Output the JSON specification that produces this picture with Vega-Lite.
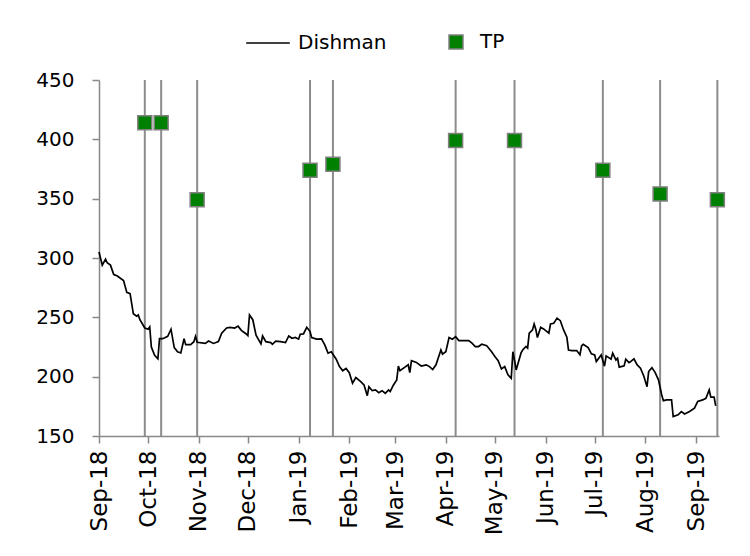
{
  "$schema": "https://vega.github.io/schema/vega-lite/v6.json",
  "width": 620,
  "height": 356,
  "autosize": {"type": "none"},
  "padding": {"left": 99, "top": 80, "right": 31, "bottom": 120},
  "background": "white",
  "config": {
    "view": {"stroke": null},
    "font": "DejaVu Sans",
    "axis": {
      "grid": false,
      "domainColor": "#898989",
      "domainWidth": 1.5,
      "tickColor": "#898989",
      "tickWidth": 1.5,
      "tickSize": 7,
      "labelColor": "#000000",
      "labelFont": "DejaVu Sans",
      "title": null
    },
    "legend": {
      "labelFont": "DejaVu Sans",
      "labelFontSize": 20,
      "labelColor": "#000000",
      "padding": 0,
      "title": null
    }
  },
  "datasets": {
    "dishman": [
      {"date": "2018-09-03", "price": 305, "s": "Dishman"},
      {"date": "2018-09-05", "price": 294, "s": "Dishman"},
      {"date": "2018-09-07", "price": 299, "s": "Dishman"},
      {"date": "2018-09-08", "price": 296, "s": "Dishman"},
      {"date": "2018-09-10", "price": 294, "s": "Dishman"},
      {"date": "2018-09-12", "price": 286, "s": "Dishman"},
      {"date": "2018-09-14", "price": 285, "s": "Dishman"},
      {"date": "2018-09-18", "price": 281, "s": "Dishman"},
      {"date": "2018-09-20", "price": 271, "s": "Dishman"},
      {"date": "2018-09-22", "price": 270, "s": "Dishman"},
      {"date": "2018-09-24", "price": 253, "s": "Dishman"},
      {"date": "2018-09-26", "price": 251, "s": "Dishman"},
      {"date": "2018-09-27", "price": 252, "s": "Dishman"},
      {"date": "2018-09-28", "price": 248, "s": "Dishman"},
      {"date": "2018-10-01", "price": 241, "s": "Dishman"},
      {"date": "2018-10-03", "price": 240, "s": "Dishman"},
      {"date": "2018-10-04", "price": 242, "s": "Dishman"},
      {"date": "2018-10-05", "price": 225, "s": "Dishman"},
      {"date": "2018-10-07", "price": 218, "s": "Dishman"},
      {"date": "2018-10-09", "price": 215, "s": "Dishman"},
      {"date": "2018-10-10", "price": 232, "s": "Dishman"},
      {"date": "2018-10-12", "price": 232, "s": "Dishman"},
      {"date": "2018-10-15", "price": 234, "s": "Dishman"},
      {"date": "2018-10-17", "price": 240, "s": "Dishman"},
      {"date": "2018-10-19", "price": 224.5, "s": "Dishman"},
      {"date": "2018-10-21", "price": 221, "s": "Dishman"},
      {"date": "2018-10-23", "price": 220, "s": "Dishman"},
      {"date": "2018-10-25", "price": 232, "s": "Dishman"},
      {"date": "2018-10-26", "price": 227, "s": "Dishman"},
      {"date": "2018-10-29", "price": 227, "s": "Dishman"},
      {"date": "2018-10-31", "price": 229.5, "s": "Dishman"},
      {"date": "2018-11-01", "price": 234, "s": "Dishman"},
      {"date": "2018-11-02", "price": 229, "s": "Dishman"},
      {"date": "2018-11-07", "price": 228, "s": "Dishman"},
      {"date": "2018-11-09", "price": 230, "s": "Dishman"},
      {"date": "2018-11-12", "price": 228, "s": "Dishman"},
      {"date": "2018-11-15", "price": 229.5, "s": "Dishman"},
      {"date": "2018-11-17", "price": 236.6, "s": "Dishman"},
      {"date": "2018-11-20", "price": 241, "s": "Dishman"},
      {"date": "2018-11-22", "price": 241.6, "s": "Dishman"},
      {"date": "2018-11-25", "price": 241, "s": "Dishman"},
      {"date": "2018-11-27", "price": 242.6, "s": "Dishman"},
      {"date": "2018-11-29", "price": 239, "s": "Dishman"},
      {"date": "2018-12-02", "price": 236, "s": "Dishman"},
      {"date": "2018-12-03", "price": 234.6, "s": "Dishman"},
      {"date": "2018-12-04", "price": 252, "s": "Dishman"},
      {"date": "2018-12-06", "price": 248, "s": "Dishman"},
      {"date": "2018-12-08", "price": 235, "s": "Dishman"},
      {"date": "2018-12-11", "price": 227.6, "s": "Dishman"},
      {"date": "2018-12-12", "price": 234.3, "s": "Dishman"},
      {"date": "2018-12-14", "price": 229.5, "s": "Dishman"},
      {"date": "2018-12-17", "price": 228.7, "s": "Dishman"},
      {"date": "2018-12-18", "price": 227.3, "s": "Dishman"},
      {"date": "2018-12-20", "price": 230, "s": "Dishman"},
      {"date": "2018-12-23", "price": 229.5, "s": "Dishman"},
      {"date": "2018-12-26", "price": 228.7, "s": "Dishman"},
      {"date": "2018-12-28", "price": 234.3, "s": "Dishman"},
      {"date": "2018-12-30", "price": 232.4, "s": "Dishman"},
      {"date": "2019-01-01", "price": 233, "s": "Dishman"},
      {"date": "2019-01-03", "price": 231.6, "s": "Dishman"},
      {"date": "2019-01-04", "price": 235.8, "s": "Dishman"},
      {"date": "2019-01-06", "price": 236, "s": "Dishman"},
      {"date": "2019-01-08", "price": 241.6, "s": "Dishman"},
      {"date": "2019-01-10", "price": 238, "s": "Dishman"},
      {"date": "2019-01-11", "price": 233, "s": "Dishman"},
      {"date": "2019-01-14", "price": 231.6, "s": "Dishman"},
      {"date": "2019-01-17", "price": 231.8, "s": "Dishman"},
      {"date": "2019-01-19", "price": 226.8, "s": "Dishman"},
      {"date": "2019-01-21", "price": 219.8, "s": "Dishman"},
      {"date": "2019-01-23", "price": 221, "s": "Dishman"},
      {"date": "2019-01-26", "price": 214.7, "s": "Dishman"},
      {"date": "2019-01-28", "price": 208.5, "s": "Dishman"},
      {"date": "2019-01-30", "price": 205, "s": "Dishman"},
      {"date": "2019-02-01", "price": 207, "s": "Dishman"},
      {"date": "2019-02-03", "price": 203.4, "s": "Dishman"},
      {"date": "2019-02-05", "price": 194.5, "s": "Dishman"},
      {"date": "2019-02-07", "price": 199.2, "s": "Dishman"},
      {"date": "2019-02-10", "price": 195.8, "s": "Dishman"},
      {"date": "2019-02-12", "price": 193, "s": "Dishman"},
      {"date": "2019-02-14", "price": 184, "s": "Dishman"},
      {"date": "2019-02-15", "price": 191.6, "s": "Dishman"},
      {"date": "2019-02-17", "price": 188.2, "s": "Dishman"},
      {"date": "2019-02-19", "price": 188.8, "s": "Dishman"},
      {"date": "2019-02-21", "price": 186.5, "s": "Dishman"},
      {"date": "2019-02-23", "price": 188.2, "s": "Dishman"},
      {"date": "2019-02-25", "price": 186, "s": "Dishman"},
      {"date": "2019-02-27", "price": 188.8, "s": "Dishman"},
      {"date": "2019-02-28", "price": 187.4, "s": "Dishman"},
      {"date": "2019-03-02", "price": 193, "s": "Dishman"},
      {"date": "2019-03-04", "price": 197.3, "s": "Dishman"},
      {"date": "2019-03-05", "price": 209, "s": "Dishman"},
      {"date": "2019-03-06", "price": 205, "s": "Dishman"},
      {"date": "2019-03-09", "price": 208, "s": "Dishman"},
      {"date": "2019-03-11", "price": 210, "s": "Dishman"},
      {"date": "2019-03-12", "price": 203.4, "s": "Dishman"},
      {"date": "2019-03-13", "price": 213.5, "s": "Dishman"},
      {"date": "2019-03-14", "price": 213, "s": "Dishman"},
      {"date": "2019-03-16", "price": 212, "s": "Dishman"},
      {"date": "2019-03-17", "price": 211, "s": "Dishman"},
      {"date": "2019-03-19", "price": 209, "s": "Dishman"},
      {"date": "2019-03-22", "price": 210, "s": "Dishman"},
      {"date": "2019-03-24", "price": 208.5, "s": "Dishman"},
      {"date": "2019-03-26", "price": 206, "s": "Dishman"},
      {"date": "2019-03-28", "price": 210, "s": "Dishman"},
      {"date": "2019-03-31", "price": 222.5, "s": "Dishman"},
      {"date": "2019-04-01", "price": 219, "s": "Dishman"},
      {"date": "2019-04-03", "price": 221, "s": "Dishman"},
      {"date": "2019-04-05", "price": 233, "s": "Dishman"},
      {"date": "2019-04-07", "price": 231.6, "s": "Dishman"},
      {"date": "2019-04-09", "price": 233.7, "s": "Dishman"},
      {"date": "2019-04-11", "price": 230.4, "s": "Dishman"},
      {"date": "2019-04-17", "price": 230.4, "s": "Dishman"},
      {"date": "2019-04-19", "price": 228.2, "s": "Dishman"},
      {"date": "2019-04-21", "price": 225.4, "s": "Dishman"},
      {"date": "2019-04-23", "price": 225.4, "s": "Dishman"},
      {"date": "2019-04-25", "price": 227.3, "s": "Dishman"},
      {"date": "2019-04-28", "price": 226, "s": "Dishman"},
      {"date": "2019-05-01", "price": 221, "s": "Dishman"},
      {"date": "2019-05-03", "price": 217, "s": "Dishman"},
      {"date": "2019-05-05", "price": 213.5, "s": "Dishman"},
      {"date": "2019-05-07", "price": 206.5, "s": "Dishman"},
      {"date": "2019-05-09", "price": 208.5, "s": "Dishman"},
      {"date": "2019-05-11", "price": 201.5, "s": "Dishman"},
      {"date": "2019-05-13", "price": 198.7, "s": "Dishman"},
      {"date": "2019-05-14", "price": 221, "s": "Dishman"},
      {"date": "2019-05-15", "price": 214, "s": "Dishman"},
      {"date": "2019-05-16", "price": 205.7, "s": "Dishman"},
      {"date": "2019-05-19", "price": 220, "s": "Dishman"},
      {"date": "2019-05-20", "price": 222.5, "s": "Dishman"},
      {"date": "2019-05-22", "price": 225.4, "s": "Dishman"},
      {"date": "2019-05-23", "price": 224, "s": "Dishman"},
      {"date": "2019-05-24", "price": 236.6, "s": "Dishman"},
      {"date": "2019-05-26", "price": 239.4, "s": "Dishman"},
      {"date": "2019-05-27", "price": 244.4, "s": "Dishman"},
      {"date": "2019-05-28", "price": 240, "s": "Dishman"},
      {"date": "2019-05-29", "price": 233, "s": "Dishman"},
      {"date": "2019-05-31", "price": 241.6, "s": "Dishman"},
      {"date": "2019-06-02", "price": 240, "s": "Dishman"},
      {"date": "2019-06-05", "price": 236.6, "s": "Dishman"},
      {"date": "2019-06-06", "price": 244.4, "s": "Dishman"},
      {"date": "2019-06-08", "price": 245, "s": "Dishman"},
      {"date": "2019-06-10", "price": 249.3, "s": "Dishman"},
      {"date": "2019-06-12", "price": 247.2, "s": "Dishman"},
      {"date": "2019-06-14", "price": 239.4, "s": "Dishman"},
      {"date": "2019-06-16", "price": 233.2, "s": "Dishman"},
      {"date": "2019-06-17", "price": 222.5, "s": "Dishman"},
      {"date": "2019-06-19", "price": 222, "s": "Dishman"},
      {"date": "2019-06-22", "price": 222, "s": "Dishman"},
      {"date": "2019-06-24", "price": 218.5, "s": "Dishman"},
      {"date": "2019-06-25", "price": 226, "s": "Dishman"},
      {"date": "2019-06-26", "price": 227.3, "s": "Dishman"},
      {"date": "2019-06-29", "price": 224.5, "s": "Dishman"},
      {"date": "2019-07-01", "price": 219.2, "s": "Dishman"},
      {"date": "2019-07-03", "price": 218.3, "s": "Dishman"},
      {"date": "2019-07-04", "price": 212.7, "s": "Dishman"},
      {"date": "2019-07-07", "price": 218.3, "s": "Dishman"},
      {"date": "2019-07-09", "price": 208.8, "s": "Dishman"},
      {"date": "2019-07-10", "price": 217.5, "s": "Dishman"},
      {"date": "2019-07-13", "price": 214.7, "s": "Dishman"},
      {"date": "2019-07-14", "price": 219.8, "s": "Dishman"},
      {"date": "2019-07-16", "price": 214.1, "s": "Dishman"},
      {"date": "2019-07-17", "price": 215.5, "s": "Dishman"},
      {"date": "2019-07-18", "price": 208, "s": "Dishman"},
      {"date": "2019-07-21", "price": 209.1, "s": "Dishman"},
      {"date": "2019-07-22", "price": 214.7, "s": "Dishman"},
      {"date": "2019-07-24", "price": 211.8, "s": "Dishman"},
      {"date": "2019-07-25", "price": 212.7, "s": "Dishman"},
      {"date": "2019-07-27", "price": 215, "s": "Dishman"},
      {"date": "2019-07-29", "price": 209.9, "s": "Dishman"},
      {"date": "2019-07-31", "price": 207.1, "s": "Dishman"},
      {"date": "2019-08-02", "price": 200.6, "s": "Dishman"},
      {"date": "2019-08-04", "price": 191.6, "s": "Dishman"},
      {"date": "2019-08-05", "price": 204.3, "s": "Dishman"},
      {"date": "2019-08-07", "price": 207.6, "s": "Dishman"},
      {"date": "2019-08-09", "price": 203.4, "s": "Dishman"},
      {"date": "2019-08-11", "price": 197.3, "s": "Dishman"},
      {"date": "2019-08-13", "price": 184.6, "s": "Dishman"},
      {"date": "2019-08-14", "price": 179.8, "s": "Dishman"},
      {"date": "2019-08-16", "price": 180.4, "s": "Dishman"},
      {"date": "2019-08-19", "price": 180.4, "s": "Dishman"},
      {"date": "2019-08-20", "price": 166.3, "s": "Dishman"},
      {"date": "2019-08-23", "price": 167.8, "s": "Dishman"},
      {"date": "2019-08-25", "price": 170.6, "s": "Dishman"},
      {"date": "2019-08-27", "price": 168.6, "s": "Dishman"},
      {"date": "2019-08-30", "price": 170.6, "s": "Dishman"},
      {"date": "2019-09-02", "price": 173.4, "s": "Dishman"},
      {"date": "2019-09-04", "price": 179.1, "s": "Dishman"},
      {"date": "2019-09-07", "price": 180.4, "s": "Dishman"},
      {"date": "2019-09-09", "price": 181.8, "s": "Dishman"},
      {"date": "2019-09-11", "price": 188.8, "s": "Dishman"},
      {"date": "2019-09-12", "price": 182.7, "s": "Dishman"},
      {"date": "2019-09-14", "price": 182.7, "s": "Dishman"},
      {"date": "2019-09-15", "price": 175.4, "s": "Dishman"}
    ],
    "tp": [
      {"date": "2018-10-01", "tp": 414, "s": "TP"},
      {"date": "2018-10-11", "tp": 414, "s": "TP"},
      {"date": "2018-11-02", "tp": 349, "s": "TP"},
      {"date": "2019-01-10", "tp": 374, "s": "TP"},
      {"date": "2019-01-24", "tp": 379, "s": "TP"},
      {"date": "2019-04-09", "tp": 399, "s": "TP"},
      {"date": "2019-05-15", "tp": 399, "s": "TP"},
      {"date": "2019-07-08", "tp": 374, "s": "TP"},
      {"date": "2019-08-12", "tp": 354, "s": "TP"},
      {"date": "2019-09-16", "tp": 349, "s": "TP"}
    ]
  },
  "encoding": {
    "x": {
      "field": "date",
      "type": "temporal",
      "scale": {
        "type": "utc",
        "domain": [
          {"year": 2018, "month": 9, "date": 3, "utc": true},
          {"year": 2019, "month": 9, "date": 17, "utc": true}
        ],
        "nice": false
      },
      "axis": {
        "format": "%b-%y",
        "labelAngle": -90,
        "labelAlign": "right",
        "labelBaseline": "middle",
        "labelFontSize": 23,
        "labelPadding": 7,
        "labelOverlap": false,
        "values": [
          {"year": 2018, "month": 9, "date": 3, "utc": true},
          {"year": 2018, "month": 10, "date": 3, "utc": true},
          {"year": 2018, "month": 11, "date": 3, "utc": true},
          {"year": 2018, "month": 12, "date": 3, "utc": true},
          {"year": 2019, "month": 1, "date": 3, "utc": true},
          {"year": 2019, "month": 2, "date": 3, "utc": true},
          {"year": 2019, "month": 3, "date": 3, "utc": true},
          {"year": 2019, "month": 4, "date": 3, "utc": true},
          {"year": 2019, "month": 5, "date": 3, "utc": true},
          {"year": 2019, "month": 6, "date": 3, "utc": true},
          {"year": 2019, "month": 7, "date": 3, "utc": true},
          {"year": 2019, "month": 8, "date": 3, "utc": true},
          {"year": 2019, "month": 9, "date": 3, "utc": true}
        ]
      }
    }
  },
  "layer": [
    {
      "data": {"name": "tp"},
      "mark": {"type": "rule", "color": "#8c8c8c", "strokeWidth": 2},
      "encoding": {
        "y": {"datum": 450, "type": "quantitative"},
        "y2": {"datum": 150}
      }
    },
    {
      "data": {"name": "dishman"},
      "mark": {"type": "line", "strokeWidth": 1.7, "interpolate": "linear"},
      "encoding": {
        "y": {
          "field": "price",
          "type": "quantitative",
          "scale": {"domain": [150, 450], "nice": false, "zero": false},
          "axis": {
            "values": [150, 200, 250, 300, 350, 400, 450],
            "labelFontSize": 20,
            "labelPadding": 18
          }
        },
        "stroke": {
          "field": "s",
          "type": "nominal",
          "scale": {"range": ["#000000"]},
          "legend": {
            "orient": "none",
            "legendX": 146,
            "legendY": -60,
            "symbolType": "stroke",
            "symbolSize": 1900,
            "symbolStrokeWidth": 1.6,
            "symbolStrokeColor": "#000000",
            "labelOffset": 7
          }
        }
      }
    },
    {
      "data": {"name": "tp"},
      "mark": {"type": "square", "size": 196, "stroke": "#808080", "strokeWidth": 1.5, "opacity": 1},
      "encoding": {
        "y": {"field": "tp", "type": "quantitative"},
        "fill": {
          "field": "s",
          "type": "nominal",
          "scale": {"range": ["#008000"]},
          "legend": {
            "orient": "none",
            "legendX": 347,
            "legendY": -48,
            "symbolType": "square",
            "symbolSize": 196,
            "symbolStrokeColor": "#808080",
            "symbolStrokeWidth": 1.5,
            "symbolFillColor": "#008000",
            "labelOffset": 14
          }
        }
      }
    }
  ]
}
